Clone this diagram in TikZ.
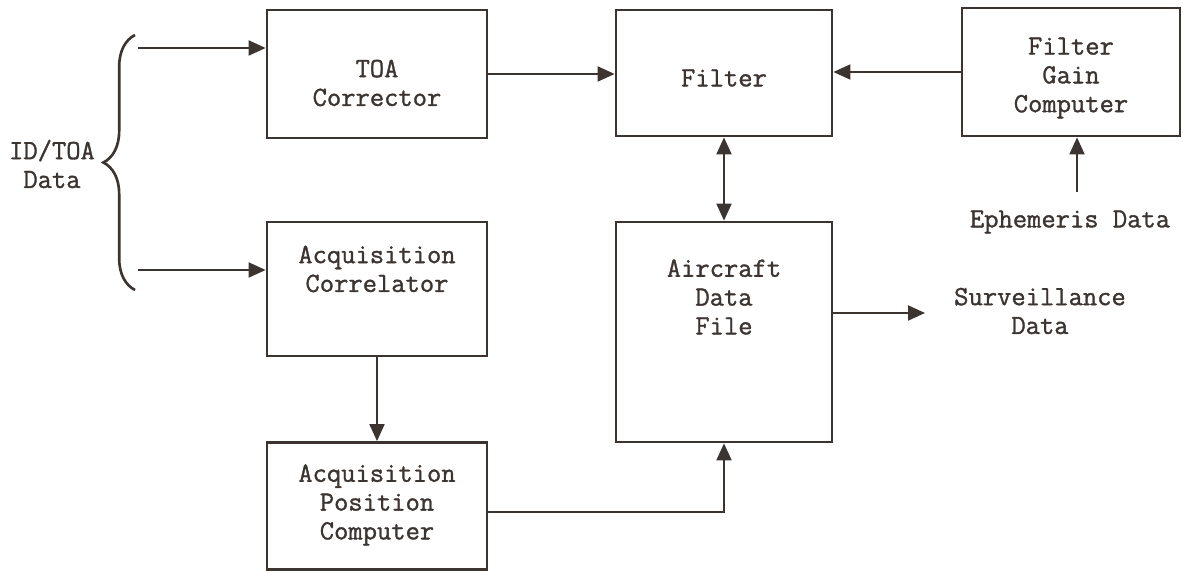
\documentclass[tikz,border=0pt]{standalone}
\usepackage{fontspec}
\newfontfamily\typewriter[FakeBold=1.2]{Latin Modern Mono}
\usepackage{tikz}
\usetikzlibrary{arrows.meta,positioning,calc,decorations.pathreplacing}
\definecolor{InkGray}{HTML}{3B3431}
\tikzset{
  block/.style={rectangle,draw=InkGray,line width=1.6pt,inner sep=0pt},
  lbl/.style={align=center,text=InkGray,font=\typewriter\fontsize{15.8pt}{16.4pt}\selectfont,inner sep=0pt},
  arrow/.style={-{Triangle[length=0.34cm,width=0.3cm]},line width=1.1pt,color=InkGray},
  darrow/.style={{Triangle[length=0.34cm,width=0.3cm]}-{Triangle[length=0.34cm,width=0.3cm]},line width=1.1pt,color=InkGray},
}
\begin{document}
\begin{tikzpicture}[x=0.02cm,y=-0.02cm]
  \useasboundingbox (0,0) rectangle (1183,573);

  % blocks
  \node[block,minimum width=4.4cm,minimum height=2.56cm] (toa) at (377,74) {};
  \node[block,minimum width=4.32cm,minimum height=2.52cm] (filter) at (724,73) {};
  \node[block,minimum width=4.36cm,minimum height=2.56cm] (gain) at (1071,72) {};
  \node[block,minimum width=4.4cm,minimum height=2.68cm] (acqcor) at (377,289) {};
  \node[block,minimum width=4.32cm,minimum height=4.4cm] (adf) at (724,332) {};
  \node[block,minimum width=4.4cm,minimum height=2.54cm] (acqpos) at (377,506) {};

  % block texts
  \node[lbl] (toatext) at (377,83) {TOA\\Corrector};
  \node[lbl] (filtertext) at (724,78) {Filter};
  \node[lbl] (gaintext) at (1071,78) {Filter\\Gain\\Computer};
  \node[lbl] (acqcortext) at (377,269) {Acquisition\\Correlator};
  \node[lbl] (adftext) at (724,297) {Aircraft\\Data\\File};
  \node[lbl] (acqpostext) at (377,505) {Acquisition\\Position\\Computer};

  % outside texts
  \node[lbl] (idtoa) at (52,164) {ID/TOA\\Data};
  \node[lbl] (ephem) at (1070,222) {Ephemeris Data};
  \node[lbl] (surv) at (1040,311) {Surveillance\\Data};

  \coordinate (in1) at (138,48);
  \coordinate (in2) at (138,270);
  \coordinate (eph) at (1077,192);
  \coordinate (out) at (925,313);

  % brace
  \draw[InkGray,line width=1.5pt,decorate,decoration={brace,amplitude=18}] (135,290) -- (135,35);

  % connectors
  \draw[arrow] (in1) -- (in1 -| toa.west);
  \draw[arrow] (in2) -- (in2 -| acqcor.west);
  \draw[arrow] (toa.east) -- (toa.east -| filter.west);
  \draw[arrow] (gain.west) -- (gain.west -| filter.east);
  \draw[darrow] (filter.south) -- (adf.north);
  \draw[arrow] (eph) -- (eph |- gain.south);
  \draw[arrow] (adf.east |- out) -- (out);
  \draw[arrow] (acqcor.south) -- (acqpos.north);
  \draw[arrow] ($(acqpos.east)+(0,6)$) -| (adf.south);
\end{tikzpicture}
\end{document}
